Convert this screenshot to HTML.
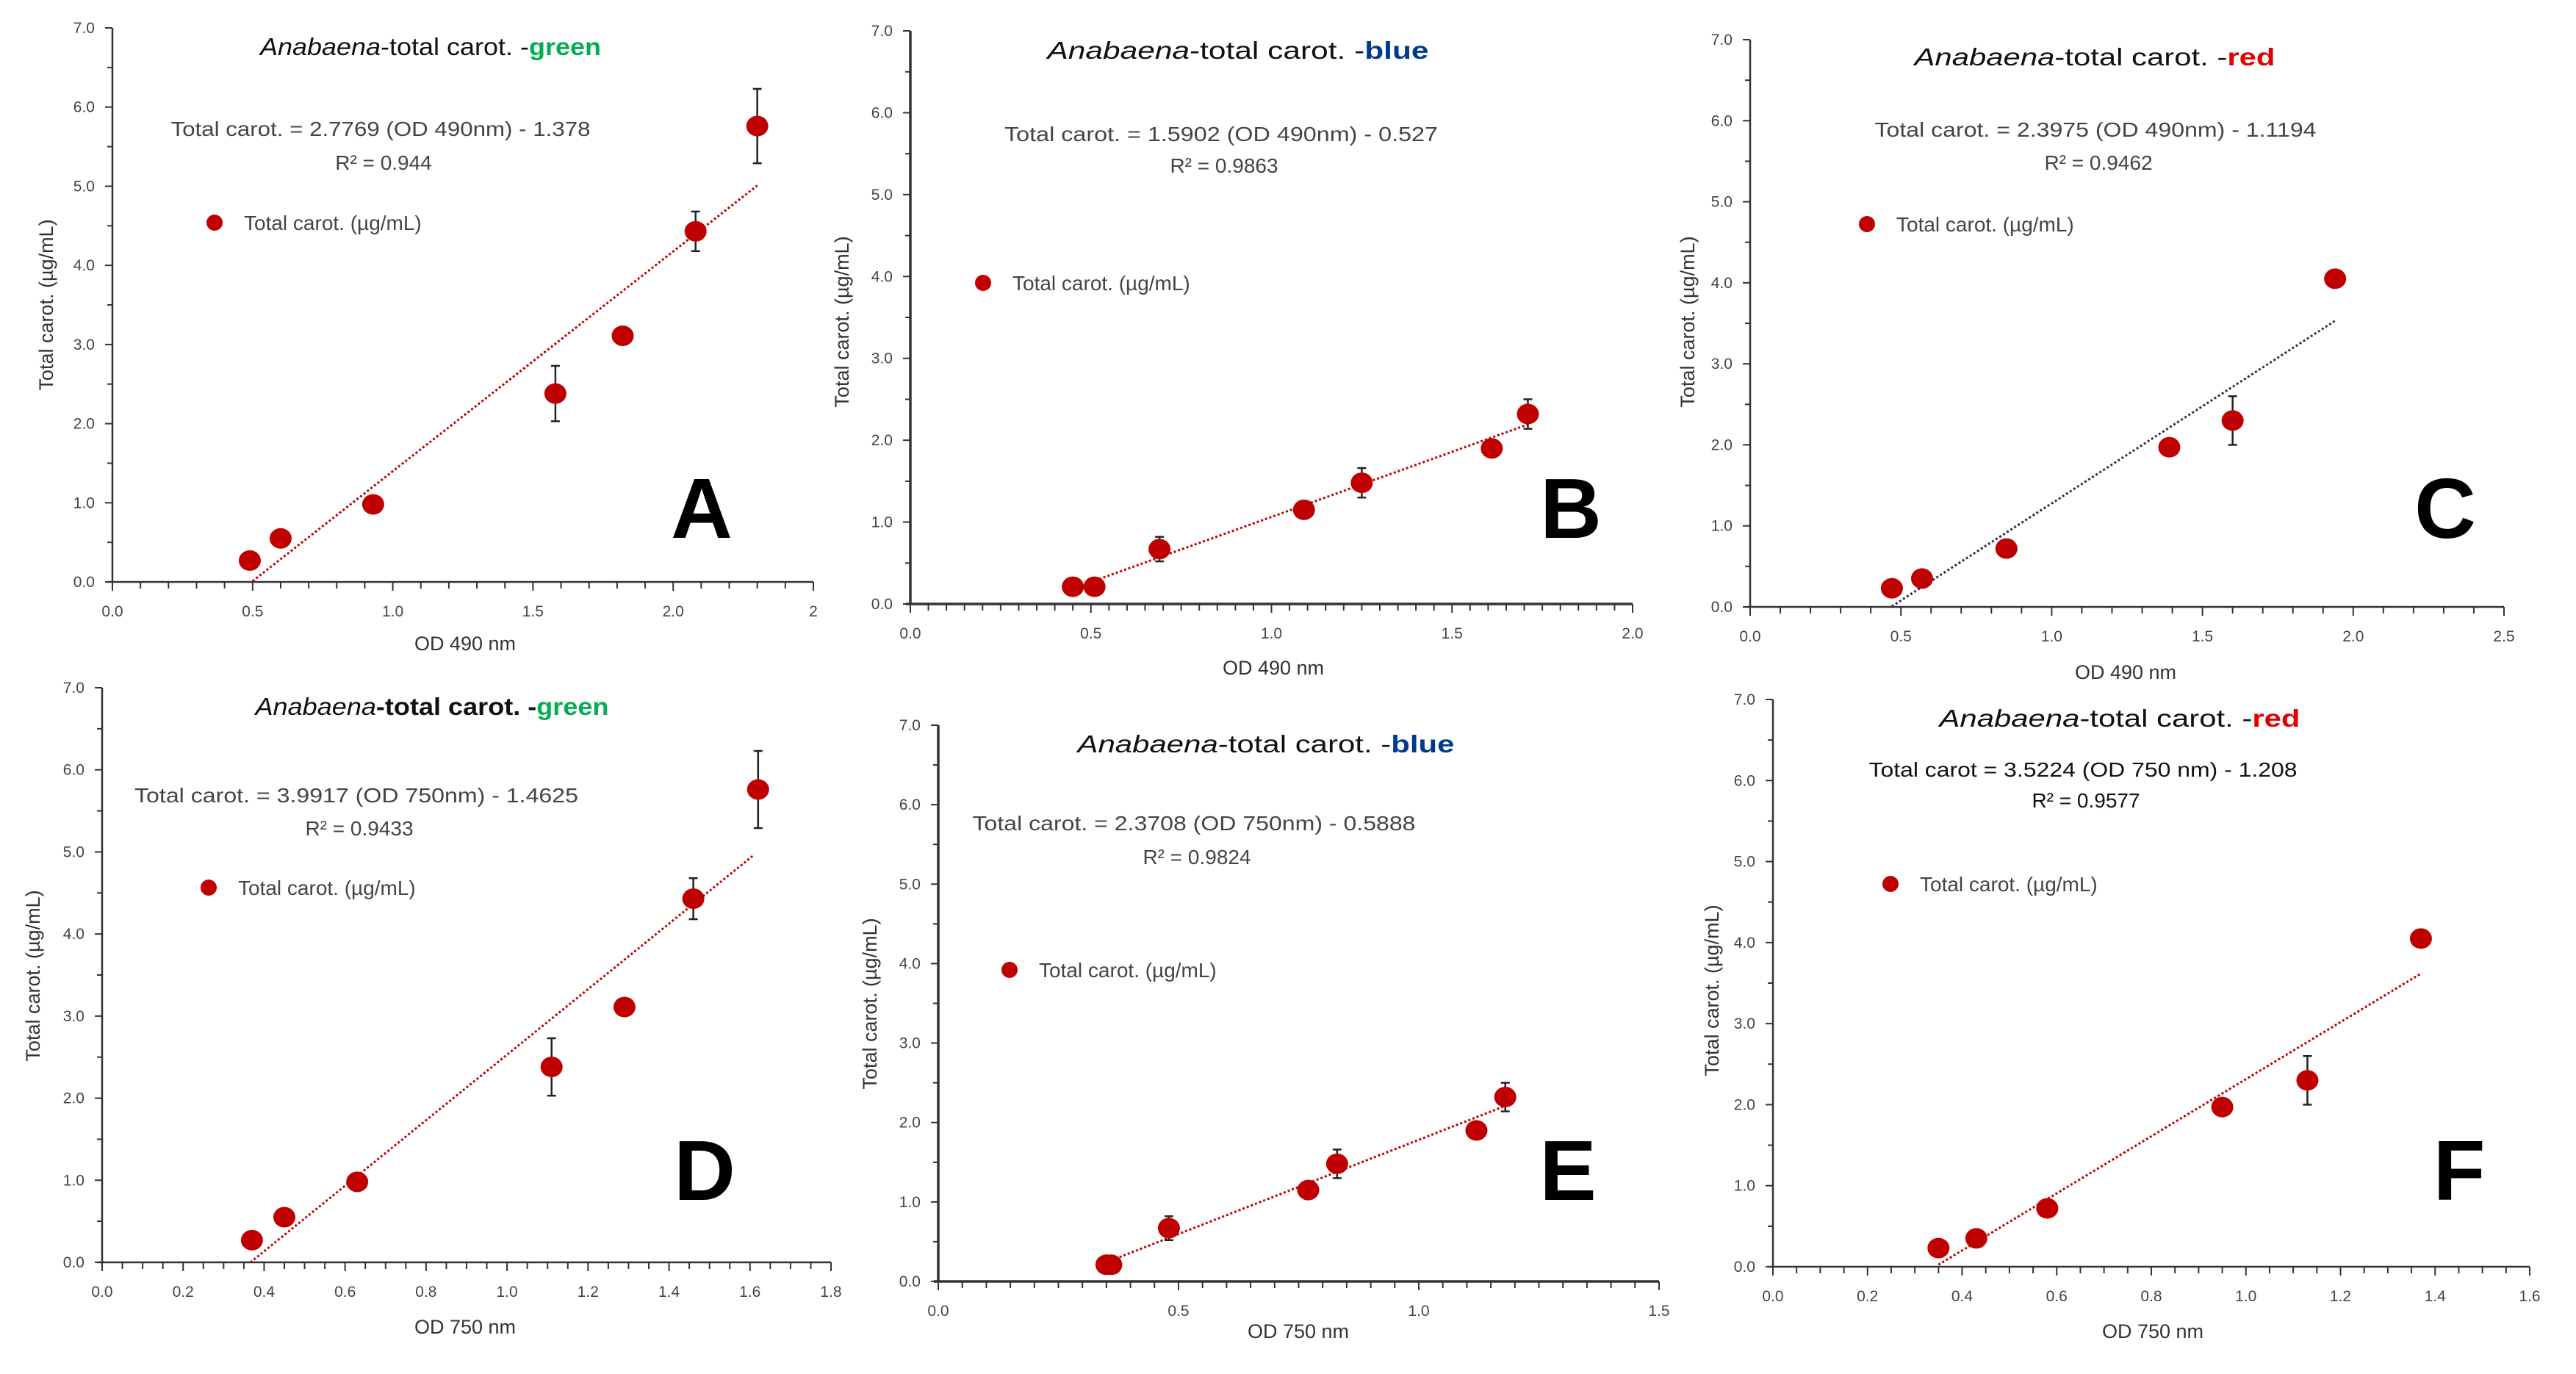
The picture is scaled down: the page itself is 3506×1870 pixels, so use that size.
<!DOCTYPE html>
<html><head><meta charset="utf-8"><style>
html,body{margin:0;padding:0;background:#fff;}
svg{display:block;font-family:"Liberation Sans",sans-serif;}
</style></head><body>
<svg id="chart" width="3506" height="1870" viewBox="0 0 3506 1870" xmlns="http://www.w3.org/2000/svg"></svg>
<script>
// ---- data ----
const aX=[0.49,0.60,0.93,1.58,1.82,2.08,2.30];
const aY=[0.27,0.55,0.98,2.38,3.11,4.43,5.76];
const aErr=[0,0,0,0.35,0,0.25,0.47];
const aXTicks=['0.0','0.5','1.0','1.5','2.0','2'];
const bX=[0.45,0.51,0.69,1.09,1.25,1.61,1.71];
const bY=[0.21,0.21,0.67,1.15,1.48,1.90,2.32];
const bErr=[0,0,0.15,0,0.18,0,0.18];
const bXTicks=['0.0','0.5','1.0','1.5','2.0'];
const cX=[0.47,0.57,0.85,1.39,1.60,1.94];
const cY=[0.23,0.35,0.72,1.97,2.30,4.05];
const cErr=[0,0,0,0,0.30,0];
const cXTicks=['0.0','0.5','1.0','1.5','2.0','2.5'];
const dX=[0.37,0.45,0.63,1.11,1.29,1.46,1.62];
const dY=[0.27,0.55,0.98,2.38,3.11,4.43,5.76];
const dErr=[0,0,0,0.35,0,0.25,0.47];
const dXTicks=['0.0','0.2','0.4','0.6','0.8','1.0','1.2','1.4','1.6','1.8'];
const eX=[0.35,0.36,0.48,0.77,0.83,1.12,1.18];
const eY=[0.21,0.21,0.67,1.15,1.48,1.90,2.32];
const eErr=[0,0,0.15,0,0.18,0,0.18];
const eXTicks=['0.0','0.5','1.0','1.5'];
const fX=[0.35,0.43,0.58,0.95,1.13,1.37];
const fY=[0.23,0.35,0.72,1.97,2.30,4.05];
const fErr=[0,0,0,0,0.30,0];
const fXTicks=['0.0','0.2','0.4','0.6','0.8','1.0','1.2','1.4','1.6'];
const yTicks=['0.0','1.0','2.0','3.0','4.0','5.0','6.0','7.0'];
const slopes=[2.7769,1.5902,2.3975,3.9917,2.3708,3.5224];
const intercepts=[-1.378,-0.527,-1.1194,-1.4625,-0.5888,-1.208];
const trendRanges=[[0.5,2.3],[0.5,1.71],[0.47,1.94],[0.3664,1.61],[0.36,1.18],[0.35,1.37]];
const equations=['Total carot. = 2.7769 (OD 490nm) - 1.378','Total carot. = 1.5902 (OD 490nm) - 0.527','Total carot. = 2.3975 (OD 490nm) - 1.1194','Total carot. = 3.9917 (OD 750nm) - 1.4625','Total carot. = 2.3708 (OD 750nm) - 0.5888','Total carot  = 3.5224 (OD 750 nm) - 1.208'];
const r2s=['R² = 0.944','R² = 0.9863','R² = 0.9462','R² = 0.9433','R² = 0.9824','R² = 0.9577'];

// ---- layout ----
const layout=[
 {L:'A',xs:aX,ys:aY,es:aErr,xt:aXTicks,ox:153,oy:792,x1:1107,y7:38,xmax:2.5,xmaj:0.5,xmin:0.1,color:'green',cc:'#00b050',tY:64,tC:586,tW:464,eY:175,eC:518,eW:571,rY:221,lgX:292,lgY:303,bigX:955,bigY:691,xtY:876,xtC:633,ytX:63,ytY:415,trend:'#c00000',xlab:'OD 490 nm',axw:2.5},
 {L:'B',xs:bX,ys:bY,es:bErr,xt:bXTicks,ox:1239,oy:822,x1:2222,y7:42,xmax:2.0,xmaj:0.5,xmin:0.05,color:'blue',cc:'#003a8c',tY:69,tC:1685,tW:519,eY:182,eC:1662,eW:590,rY:225,lgX:1338,lgY:385,bigX:2138,bigY:691,xtY:909,xtC:1733,ytX:1146,ytY:438,trend:'#c00000',xlab:'OD 490 nm',axw:3.5},
 {L:'C',xs:cX,ys:cY,es:cErr,xt:cXTicks,ox:2382,oy:826,x1:3408,y7:54,xmax:2.5,xmaj:0.5,xmin:0.1,color:'red',cc:'#e00000',tY:78,tC:2851,tW:491,eY:176,eC:2852,eW:601,rY:221,lgX:2541,lgY:305,bigX:3328,bigY:691,xtY:915,xtC:2893,ytX:2297,ytY:438,trend:'#3a2a4a',xlab:'OD 490 nm',axw:2.5},
 {L:'D',xs:dX,ys:dY,es:dErr,xt:dXTicks,ox:139,oy:1718,x1:1131,y7:936,xmax:1.8,xmaj:0.2,xmin:0.05,color:'green',cc:'#00b050',tY:962,tC:588,tW:481,eY:1082,eC:485,eW:604,rY:1127,lgX:284,lgY:1208,bigX:959,bigY:1592,xtY:1806,xtC:633,ytX:45,ytY:1328,trend:'#c00000',xlab:'OD 750 nm',axw:2.5,boldTitle:true},
 {L:'E',xs:eX,ys:eY,es:eErr,xt:eXTicks,ox:1277,oy:1744,x1:2258,y7:987,xmax:1.5,xmaj:0.5,xmin:0.05,color:'blue',cc:'#003a8c',tY:1013,tC:1723,tW:513,eY:1120,eC:1625,eW:603,rY:1166,lgX:1374,lgY:1320,bigX:2134,bigY:1592,xtY:1812,xtC:1767,ytX:1184,ytY:1366,trend:'#c00000',xlab:'OD 750 nm',axw:3.5},
 {L:'F',xs:fX,ys:fY,es:fErr,xt:fXTicks,ox:2413,oy:1724,x1:3443,y7:952,xmax:1.6,xmaj:0.2,xmin:0.05,color:'red',cc:'#e00000',tY:978,tC:2885,tW:491,eY:1047,eC:2835,eW:583,rY:1089,lgX:2573,lgY:1203,bigX:3347,bigY:1592,xtY:1812,xtC:2930,ytX:2330,ytY:1348,trend:'#c00000',xlab:'OD 750 nm',axw:2.5,dark:true}
];

const NS='http://www.w3.org/2000/svg';
const svg=document.getElementById('chart');
function mk(tag,attrs,parent){const e=document.createElementNS(NS,tag);for(const k in attrs)e.setAttribute(k,attrs[k]);(parent||svg).appendChild(e);return e;}

layout.forEach((p,i)=>{
  const g=mk('g',{});
  
  
  const sx=v=>p.ox+(v/p.xmax)*(p.x1-p.ox);
  const sy=v=>p.oy-(v/7)*(p.oy-p.y7);
  // axes
  const ya=mk('line',{x1:p.ox,y1:p.oy,x2:p.ox,y2:p.y7,stroke:'#333','stroke-width':p.axw},g);
  
  
  const xa=mk('line',{x1:p.ox-6,y1:p.oy,x2:p.x1,y2:p.oy,stroke:'#333','stroke-width':p.axw},g);
  
  
  // y ticks
  for(let k=0;k<=14;k++){const v=k*0.5;const y=sy(v);const len=(k%2===0)?10:7;
    mk('line',{x1:p.ox-len,y1:y,x2:p.ox,y2:y,stroke:'#333','stroke-width':2},g);}
  yTicks.forEach((t,k)=>{const tx=mk('text',{x:p.ox-24,y:sy(k)+7,'text-anchor':'end','font-size':21,fill:'#444'},g);tx.textContent=t;
    
    });
  // x ticks
  const nmin=Math.round(p.xmax/p.xmin);const per=Math.round(p.xmaj/p.xmin);
  for(let k=0;k<=nmin;k++){const x=sx(k*p.xmin);mk('line',{x1:x,y1:p.oy,x2:x,y2:p.oy+(k%per===0?12:9),stroke:'#333','stroke-width':2},g);}
  p.xt.forEach((t,k)=>{const tx=mk('text',{x:sx(k*p.xmaj),y:p.oy+47,'text-anchor':'middle','font-size':21,fill:'#444'},g);tx.textContent=t;
    
    });
  // axis titles
  const xt=mk('text',{x:p.xtC,y:p.xtY+9,'text-anchor':'middle','font-size':27,fill:'#333'},g);xt.textContent=p.xlab;
  
  
  const yt=mk('text',{x:0,y:0,'text-anchor':'middle','font-size':27,fill:'#333',transform:`translate(${p.ytX+9},${p.ytY}) rotate(-90)`},g);yt.textContent='Total carot. (µg/mL)';
  
  
  // title
  const tt=mk('text',{x:p.tC,y:p.tY+11,'text-anchor':'middle','font-size':33,fill:'#111',textLength:p.tW,lengthAdjust:'spacingAndGlyphs'},g);
  
  
  const s1=mk('tspan',{'font-style':'italic'},tt);s1.textContent='Anabaena';
  const s2=mk('tspan',p.boldTitle?{'font-weight':'bold'}:{},tt);s2.textContent='-total carot. -';
  const s3=mk('tspan',{'font-weight':'bold',fill:p.cc},tt);s3.textContent=p.color;
  // equation
  const ec=p.dark?'#111':'#444';
  const eq=mk('text',{x:p.eC,y:p.eY+10,'text-anchor':'middle','font-size':28,fill:ec,textLength:p.eW,lengthAdjust:'spacingAndGlyphs'},g);eq.textContent=equations[i];
  
  
  const r2=mk('text',{x:p.eC+4,y:p.rY+10,'text-anchor':'middle','font-size':28,fill:ec},g);r2.textContent=r2s[i];
  
  
  // legend
  const lg=mk('g',{},g);
  
  
  mk('circle',{cx:p.lgX,cy:p.lgY,r:11,fill:'#c00000'},lg);
  const lt=mk('text',{x:p.lgX+40,y:p.lgY+10,'font-size':28,fill:'#444'},lg);lt.textContent='Total carot. (µg/mL)';
  // trendline
  const tr=trendRanges[i];
  const tl=mk('line',{x1:sx(tr[0]),y1:sy(slopes[i]*tr[0]+intercepts[i]),x2:sx(tr[1]),y2:sy(slopes[i]*tr[1]+intercepts[i]),stroke:p.trend,'stroke-width':3,'stroke-dasharray':'3,3'},g);
  
  
  // points
  p.xs.forEach((xv,k)=>{
    const cx=sx(xv),cy=sy(p.ys[k]);
    if(p.es[k]>0){
      const eb=mk('g',{stroke:'#222','stroke-width':2.5},g);
      
      
      const t=sy(p.ys[k]+p.es[k]),b=sy(p.ys[k]-p.es[k]);
      mk('line',{x1:cx,y1:t,x2:cx,y2:b},eb);
      mk('line',{x1:cx-6,y1:t,x2:cx+6,y2:t},eb);
      mk('line',{x1:cx-6,y1:b,x2:cx+6,y2:b},eb);
    }
    const c=mk('ellipse',{cx:cx,cy:cy,rx:15,ry:14,fill:'#c00000'},g);
    
    
  });
  // panel letter
  const bl=mk('text',{x:p.bigX,y:p.bigY+41,'text-anchor':'middle','font-size':116,'font-weight':'bold',fill:'#000'},g);bl.textContent=p.L;
  
  
});
</script>
</body></html>
